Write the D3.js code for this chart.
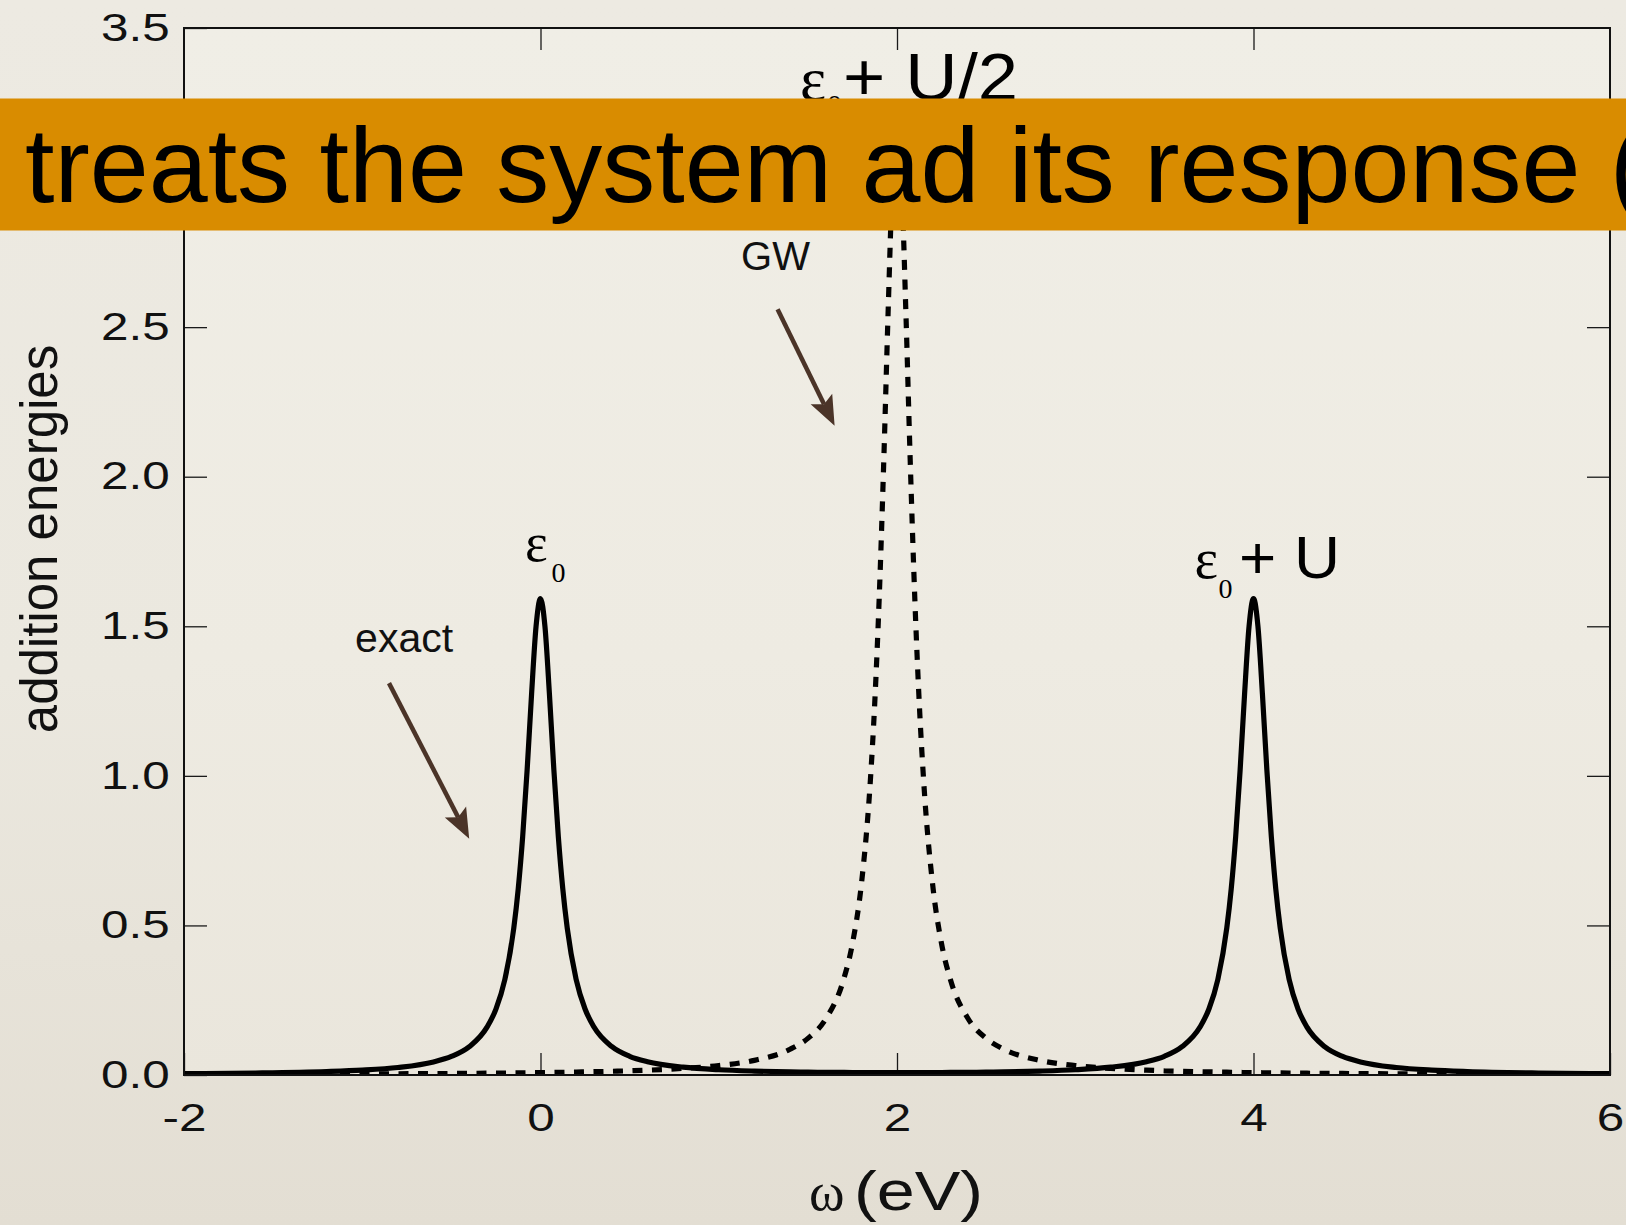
<!DOCTYPE html>
<html>
<head>
<meta charset="utf-8">
<script src="https://cdn.jsdelivr.net/npm/d3@7"></script>
<style>
  html, body { margin: 0; padding: 0; overflow: hidden; background: #ece9e0; }
  svg { display: block; }
</style>
</head>
<body>
<svg id="chart" width="1626" height="1225"></svg>
<script>
// Spectral function A(ω): exact two-peak result vs. single GW peak
const omega = [-2, -1.6, -1.2, -1, -0.8, -0.6, -0.5, -0.4, -0.3, -0.25,
  -0.2, -0.15, -0.125, -0.1, -0.075, -0.05, -0.025, 0, 0.025, 0.05,
  0.075, 0.1, 0.125, 0.15, 0.2, 0.25, 0.3, 0.4, 0.5, 0.6,
  0.8, 1, 1.2, 1.4, 1.5, 1.6, 1.7, 1.75, 1.8, 1.85,
  1.875, 1.9, 1.925, 1.95, 1.975, 2, 2.025, 2.05, 2.075, 2.1,
  2.125, 2.15, 2.2, 2.25, 2.3, 2.4, 2.5, 2.6, 2.8, 3,
  3.2, 3.4, 3.5, 3.6, 3.7, 3.75, 3.8, 3.85, 3.875, 3.9,
  3.925, 3.95, 3.975, 4, 4.025, 4.05, 4.075, 4.1, 4.125, 4.15,
  4.2, 4.25, 4.3, 4.4, 4.5, 4.6, 4.8, 5, 5.2, 5.6, 6];

const exactValues = [0.0044, 0.0067, 0.0116, 0.0164, 0.0252, 0.0438, 0.0620, 0.0944, 0.1600, 0.2204,
  0.3192, 0.4906, 0.6220, 0.7967, 1.0196, 1.2742, 1.4989, 1.5926, 1.4990, 1.2743,
  1.0197, 0.7968, 0.6222, 0.4908, 0.3194, 0.2207, 0.1603, 0.0949, 0.0625, 0.0444,
  0.0261, 0.0175, 0.0131, 0.0105, 0.0096, 0.0090, 0.0085, 0.0084, 0.0082, 0.0081,
  0.0080, 0.0080, 0.0080, 0.0080, 0.0079, 0.0079, 0.0079, 0.0080, 0.0080, 0.0080,
  0.0080, 0.0081, 0.0082, 0.0084, 0.0085, 0.0090, 0.0096, 0.0105, 0.0131, 0.0175,
  0.0261, 0.0444, 0.0625, 0.0949, 0.1603, 0.2207, 0.3194, 0.4908, 0.6222, 0.7968,
  1.0197, 1.2743, 1.4990, 1.5926, 1.4989, 1.2742, 1.0196, 0.7967, 0.6220, 0.4906,
  0.3192, 0.2204, 0.1600, 0.0944, 0.0620, 0.0438, 0.0252, 0.0164, 0.0116, 0.0067, 0.0044];

const gwValues = [0.0020, 0.0025, 0.0031, 0.0035, 0.0041, 0.0047, 0.0051, 0.0055, 0.0060, 0.0063,
  0.0066, 0.0069, 0.0070, 0.0072, 0.0074, 0.0076, 0.0077, 0.0079, 0.0081, 0.0083,
  0.0086, 0.0088, 0.0090, 0.0093, 0.0098, 0.0104, 0.0110, 0.0124, 0.0141, 0.0162,
  0.0220, 0.0315, 0.0490, 0.0860, 0.1224, 0.1872, 0.3183, 0.4390, 0.6366, 0.9794,
  1.2422, 1.5915, 2.0372, 2.5465, 2.9959, 3.1831, 2.9959, 2.5465, 2.0372, 1.5915,
  1.2422, 0.9794, 0.6366, 0.4390, 0.3183, 0.1872, 0.1224, 0.0860, 0.0490, 0.0315,
  0.0220, 0.0162, 0.0141, 0.0124, 0.0110, 0.0104, 0.0098, 0.0093, 0.0090, 0.0088,
  0.0086, 0.0083, 0.0081, 0.0079, 0.0077, 0.0076, 0.0074, 0.0072, 0.0070, 0.0069,
  0.0066, 0.0063, 0.0060, 0.0055, 0.0051, 0.0047, 0.0041, 0.0035, 0.0031, 0.0025, 0.0020];

const xTicks = [-2, 0, 2, 4, 6];
const xTickLabels = ["-2", "0", "2", "4", "6"];
const yTicks = [0, 0.5, 1, 1.5, 2, 2.5, 3, 3.5];
const yTickLabels = ["0.0", "0.5", "1.0", "1.5", "2.0", "2.5", "3.0", "3.5"];

// annotation arrows, in (ω, A) coordinates: [start, tip]
const arrowExact = [[-0.85, 1.31], [-0.40, 0.79]];
const arrowGW = [[1.33, 2.56], [1.65, 2.17]];

const W = 1626, H = 1225;
const SANS = "'Liberation Sans', Arial, Helvetica, sans-serif";
const SERIF = "'Liberation Serif', 'Times New Roman', Times, serif";
const ARROW = "#4b3428";

const svg = d3.select("#chart");
const defs = svg.append("defs");

function vGrad(id, stops) {
  const g = defs.append("linearGradient").attr("id", id)
    .attr("x1", 0).attr("y1", 0).attr("x2", 0).attr("y2", 1);
  stops.forEach(([o, c]) => g.append("stop").attr("offset", o).attr("stop-color", c));
}
vGrad("pageGrad", [["0%", "#edeae2"], ["55%", "#ebe8df"], ["100%", "#e3ded3"]]);
vGrad("plotGrad", [["0%", "#f0eee6"], ["60%", "#eeebe2"], ["100%", "#eae6dc"]]);

svg.append("rect").attr("width", W).attr("height", H).attr("fill", "url(#pageGrad)");

const x = d3.scaleLinear().domain([-2, 6]).range([184, 1610]);
const y = d3.scaleLinear().domain([0, 3.5]).range([1075, 28]);
const [x0, x1] = x.range();
const [y0, y1] = y.range();

svg.append("rect")
  .attr("x", x0).attr("y", y1).attr("width", x1 - x0).attr("height", y0 - y1)
  .attr("fill", "url(#plotGrad)");

defs.append("clipPath").attr("id", "plotClip").append("rect")
  .attr("x", x0).attr("y", y1 - 4).attr("width", x1 - x0).attr("height", y0 - y1 + 4);

// axes: inward ticks on all four sides, labels on left and bottom
function styleAxis(g) {
  g.select(".domain").remove();
  g.selectAll(".tick line").attr("stroke", "#1a1a1a").attr("stroke-width", 1.3);
  g.selectAll(".tick text")
    .attr("fill", "#111")
    .style("font-family", SANS)
    .style("font-size", "38px")
    .attr("transform", "scale(1.3,1)");
}

svg.append("g").attr("transform", `translate(0,${y0})`)
  .call(d3.axisBottom(x).tickValues(xTicks).tickSize(-22).tickPadding(29)
    .tickFormat((d, i) => xTickLabels[i]))
  .call(styleAxis);

svg.append("g").attr("transform", `translate(0,${y1})`)
  .call(d3.axisTop(x).tickValues(xTicks.slice(1, -1)).tickSize(-22).tickFormat(""))
  .call(styleAxis);

svg.append("g").attr("transform", `translate(${x0},0)`)
  .call(d3.axisLeft(y).tickValues(yTicks).tickSize(-23).tickPadding(11)
    .tickFormat((d, i) => yTickLabels[i]))
  .call(styleAxis);

svg.append("g").attr("transform", `translate(${x1},0)`)
  .call(d3.axisRight(y).tickValues(yTicks.slice(1, -1)).tickSize(-23).tickFormat(""))
  .call(styleAxis);

// curves
const line = d3.line()
  .x(d => x(d[0]))
  .y(d => y(d[1]))
  .curve(d3.curveMonotoneX);

const curves = svg.append("g").attr("clip-path", "url(#plotClip)");

curves.append("path")
  .datum(d3.zip(omega, gwValues))
  .attr("d", line)
  .attr("fill", "none")
  .attr("stroke", "#000")
  .attr("stroke-width", 5.2)
  .attr("stroke-dasharray", "10,9.5");

curves.append("path")
  .datum(d3.zip(omega, exactValues))
  .attr("d", line)
  .attr("fill", "none")
  .attr("stroke", "#000")
  .attr("stroke-width", 5.2)
  .attr("stroke-linejoin", "round");

// frame
svg.append("rect")
  .attr("x", x0).attr("y", y1).attr("width", x1 - x0).attr("height", y0 - y1)
  .attr("fill", "none").attr("stroke", "#111").attr("stroke-width", 2);

// text helper
function label(txt, px, py, opts = {}) {
  const t = svg.append("text")
    .attr("x", px).attr("y", py)
    .attr("fill", opts.fill || "#000")
    .style("font-family", opts.family || SANS)
    .style("font-size", (opts.size || 40) + "px")
    .attr("text-anchor", opts.anchor || "start")
    .text(txt);
  if (opts.length) t.attr("textLength", opts.length).attr("lengthAdjust", "spacingAndGlyphs");
  if (opts.transform) t.attr("transform", opts.transform);
  return t;
}

// axis titles
label("addition energies", 0, 0, {
  size: 51, anchor: "middle", fill: "#111",
  transform: "translate(57,539) rotate(-90)"
});
label("ω", x(2) - 88, 1210, { family: SERIF, size: 54, fill: "#111" });
label("(eV)", x(2) - 43, 1210, { size: 56, length: 129, fill: "#111" });

// peak labels
const peakTop = y(1.59);
label("ε", x(0) - 15.5, peakTop - 38, { family: SERIF, size: 54 });
label("0", x(0) + 11, peakTop - 17, { family: SERIF, size: 28 });

label("ε", x(4) - 59, peakTop - 21, { family: SERIF, size: 56 });
label("0", x(4) - 35, peakTop - 1, { family: SERIF, size: 28 });
label("+ U", x(4) - 14.5, peakTop - 21, { size: 60, length: 101 });

label("ε", x(2) - 97, y1 + 72, { family: SERIF, size: 62 });
label("0", x(2) - 70, y1 + 87, { family: SERIF, size: 30 });
label("+ U/2", x(2) - 54, y1 + 72, { size: 66, length: 175 });

// curve names with arrows
label("exact", x(-1.04), y(1.414), { size: 40, length: 98, fill: "#111" });
label("GW", x(1.125), y(2.691), { size: 40, fill: "#111" });

function arrow([[a0, v0], [a1, v1]]) {
  const sx = x(a0), sy = y(v0), tx = x(a1), ty = y(v1);
  const dx = tx - sx, dy = ty - sy, len = Math.hypot(dx, dy);
  const ux = dx / len, uy = dy / len, nx = -uy, ny = ux;
  const headLen = 30, halfW = 12, notch = 6;
  const bx = tx - ux * headLen, by = ty - uy * headLen;
  svg.append("line")
    .attr("x1", sx).attr("y1", sy)
    .attr("x2", bx + ux * notch).attr("y2", by + uy * notch)
    .attr("stroke", ARROW).attr("stroke-width", 4.5);
  const pts = [
    [tx, ty],
    [bx + nx * halfW, by + ny * halfW],
    [bx + ux * notch, by + uy * notch],
    [bx - nx * halfW, by - ny * halfW]
  ];
  svg.append("path")
    .attr("d", "M" + pts.map(p => p.join(",")).join("L") + "Z")
    .attr("fill", ARROW);
}
arrow(arrowExact);
arrow(arrowGW);

// caption band across the top
svg.append("rect")
  .attr("x", 0).attr("y", 98.5).attr("width", W).attr("height", 132)
  .attr("fill", "#d98c00");
label("treats the system ad its response (", 25, 202, { size: 106, fill: "#000" });
</script>
</body>
</html>
